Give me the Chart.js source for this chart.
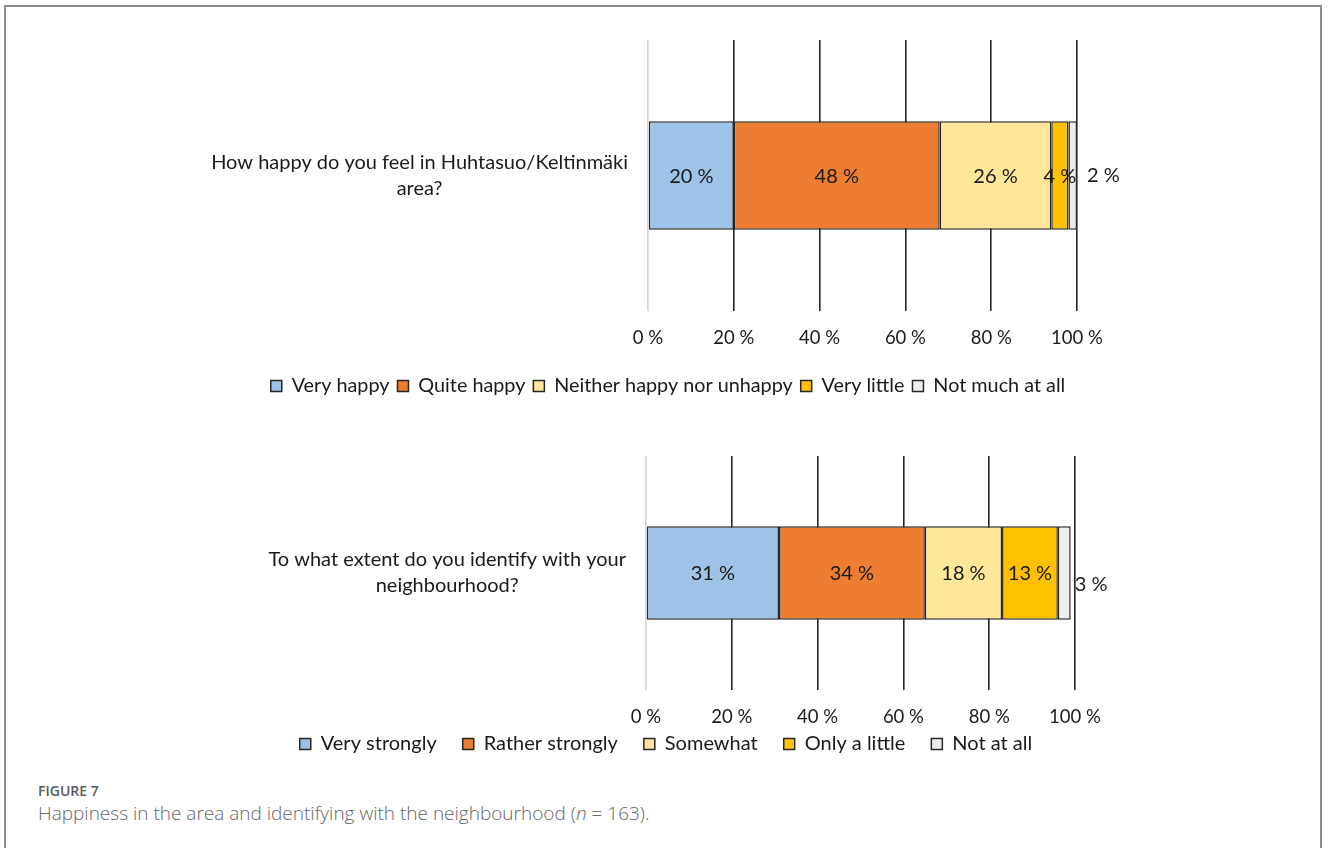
<!DOCTYPE html>
<html>
<head>
<meta charset="utf-8">
<script src="https://cdn.jsdelivr.net/npm/chart.js@4/dist/chart.umd.min.js"></script>
<style>
  html, body { margin: 0; padding: 0; background: #fff; }
  body { width: 1328px; height: 848px; position: relative; overflow: hidden; }
  .frame {
    position: absolute; left: 4px; top: 5px; width: 1318px; height: 900px;
    border: 2px solid #8c8c8c; border-bottom: none; box-sizing: border-box;
  }
  .panel { position: absolute; }
  #happyBox { left: 208px; top: 30px; width: 920px; height: 376px; }
  #identifyBox { left: 206px; top: 446px; width: 920px; height: 340px; }
  .caption-title {
    position: absolute; left: 38px; top: 781px;
    font-family: "Open Sans", "Noto Sans", sans-serif; font-weight: 600;
    font-size: 14px; color: #5a5a5a;
  }
  .caption-text {
    position: absolute; left: 38px; top: 800px;
    font-family: "Open Sans", "Noto Sans", sans-serif; font-weight: 300;
    font-size: 19px; color: #666;
  }
</style>
</head>
<body>
<div class="frame"></div>
<div class="panel" id="happyBox"><canvas id="happyChart"></canvas></div>
<div class="panel" id="identifyBox"><canvas id="identifyChart"></canvas></div>
<div class="caption-title">FIGURE 7</div>
<div class="caption-text">Happiness in the area and identifying with the neighbourhood (<i>n</i> = 163).</div>

<script>
// Survey answers, percent of respondents
const happyQuestion = [['How happy do you feel in Huhtasuo/Keltinmäki', 'area?']];
const happyAnswers = ['Very happy', 'Quite happy', 'Neither happy nor unhappy', 'Very little', 'Not much at all'];
const happyValues = [20, 48, 26, 4, 2];

const identifyQuestion = [['To what extent do you identify with your', 'neighbourhood?']];
const identifyAnswers = ['Very strongly', 'Rather strongly', 'Somewhat', 'Only a little', 'Not at all'];
const identifyValues = [31, 34, 18, 13, 3];

const percentTicks = [0, 20, 40, 60, 80, 100];
const answerColors = ['#9DC3E6', '#ED7D31', '#FFE699', '#FFC000', '#EDEDED'];

const FONT = 'Lato, "Liberation Sans", sans-serif';
const INK = '#1a1a1a';

// Writes the percentage on each segment; the last, thin segment gets its label beside the bar end.
const segmentLabels = {
  id: 'segmentLabels',
  afterDatasetsDraw(chart, args, opts) {
    const ctx = chart.ctx;
    const last = chart.data.datasets.length - 1;
    ctx.save();
    ctx.font = '20px ' + FONT;
    ctx.fillStyle = INK;
    ctx.textBaseline = 'middle';
    chart.data.datasets.forEach((ds, di) => {
      chart.getDatasetMeta(di).data.forEach((bar, i) => {
        const p = bar.getProps(['x', 'y', 'base'], true);
        const text = ds.data[i] + ' %';
        if (di === last) {
          ctx.textAlign = 'left';
          ctx.fillText(text, p.x + opts.outsideDx, p.y + opts.outsideDy);
        } else {
          ctx.textAlign = 'center';
          ctx.fillText(text, (p.x + p.base) / 2, p.y + 1);
        }
      });
    });
    ctx.restore();
  }
};

// Question text to the left of the bar, each line centred on the widest line.
const questionLabels = {
  id: 'questionLabels',
  afterDraw(chart, args, opts) {
    const ctx = chart.ctx;
    const yScale = chart.scales.y;
    ctx.save();
    ctx.font = opts.size + 'px ' + FONT;
    ctx.fillStyle = INK;
    ctx.textAlign = 'center';
    ctx.textBaseline = 'middle';
    chart.data.labels.forEach((lines, i) => {
      const widest = Math.max(...lines.map(l => ctx.measureText(l).width));
      const cx = chart.chartArea.left - opts.gap - widest / 2;
      const cy = yScale.getPixelForTick(i);
      const top = cy - (lines.length - 1) * opts.lineHeight / 2;
      lines.forEach((l, k) => ctx.fillText(l, cx, top + k * opts.lineHeight));
    });
    ctx.restore();
  }
};

// Moves the legend up by a set amount so it can sit close under the percentage labels.
const legendLift = {
  id: 'legendLift',
  afterLayout(chart, args, opts) {
    const lg = chart.legend;
    if (lg && opts.lift) { lg.top -= opts.lift; lg.bottom -= opts.lift; }
  }
};

function buildChart(canvasId, question, answers, values, cfg) {
  const datasets = answers.map((name, k) => ({
    label: name,
    data: [values[k]],
    backgroundColor: answerColors[k],
    borderColor: '#262626',
    borderWidth: 1.5,
    borderSkipped: false,
    barPercentage: 0.4,
    categoryPercentage: 1
  }));
  return new Chart(document.getElementById(canvasId), {
    type: 'bar',
    data: { labels: question, datasets },
    plugins: [segmentLabels, questionLabels, legendLift],
    options: {
      indexAxis: 'y',
      responsive: true,
      maintainAspectRatio: false,
      animation: false,
      layout: { padding: { top: 10, left: 51, right: 51, bottom: 0 } },
      scales: {
        x: {
          stacked: true,
          min: 0,
          max: 100,
          afterBuildTicks(scale) { scale.ticks = percentTicks.map(v => ({ value: v })); },
          afterFit(scale) { scale.height = cfg.axisHeight; },
          ticks: {
            callback: v => v + ' %',
            font: { family: FONT, size: 18.5 },
            color: INK,
            padding: 16,
            maxRotation: 0
          },
          grid: {
            drawTicks: false,
            lineWidth: 1.6,
            color: c => (c.tick && c.tick.value === 0) ? '#d4d4d4' : '#262626'
          },
          border: { display: false }
        },
        y: {
          stacked: true,
          afterFit(scale) {
            scale.width = cfg.axisWidth;
            scale.paddingTop = 0;
            scale.paddingBottom = 0;
          },
          ticks: { display: false },
          grid: { display: false, drawTicks: false },
          border: { display: false }
        }
      },
      plugins: {
        tooltip: { enabled: false },
        legend: {
          position: 'bottom',
          labels: {
            font: { family: FONT, size: cfg.legendSize },
            color: INK,
            boxWidth: 11,
            boxHeight: 11,
            padding: cfg.legendGap
          }
        },
        segmentLabels: { outsideDx: cfg.outsideDx, outsideDy: cfg.outsideDy },
        questionLabels: { size: 20, gap: 20, lineHeight: 26 },
        legendLift: { lift: cfg.legendLift }
      }
    }
  });
}

buildChart('happyChart', happyQuestion, happyAnswers, happyValues,
  { axisHeight: 57, axisWidth: 389, legendSize: 19.8, legendGap: 8, legendLift: 0, outsideDx: 10, outsideDy: 0 });
buildChart('identifyChart', identifyQuestion, identifyAnswers, identifyValues,
  { axisHeight: 40, axisWidth: 389, legendSize: 20, legendGap: 26, legendLift: 22, outsideDx: 4, outsideDy: 12 });
</script>
</body>
</html>
